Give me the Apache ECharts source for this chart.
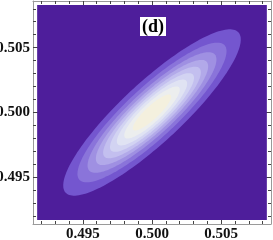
<!DOCTYPE html>
<html><head><meta charset="utf-8">
<script src="https://cdn.jsdelivr.net/npm/echarts@6/dist/echarts.min.js"></script>
<style>html,body{margin:0;padding:0;background:#fff}#c{width:273px;height:240px}</style>
</head><body><div id="c"></div>
<script>
// Axis range and ticks
const axisRange = [0.4914, 0.5086];
const fillRange = [0.4917, 0.5083];
const majorTicks = [0.495, 0.500, 0.505];
const minorTicks = [0.492, 0.493, 0.494, 0.496, 0.497, 0.498, 0.499, 0.501, 0.502, 0.503, 0.504, 0.506, 0.507, 0.508];
// Contour ellipses (outer -> inner), centre, semi-axes along / across the diagonal
const center = [0.500, 0.500];
const tiltDeg = 45;
const contourA = [0.00879, 0.00738, 0.00638, 0.00556, 0.00484, 0.00416, 0.00348, 0.00275, 0.00190];
const contourB = [0.00225, 0.00189, 0.00163, 0.00142, 0.00124, 0.00106, 0.00089, 0.00070, 0.00049];
const bgColor = '#4e1e9b';
const contourColors = ['#7456cf', '#8a74da', '#9f90e2', '#b2a9e9', '#c3bfef', '#d2d3f2', '#e0e3f3', '#eceeee', '#f4f0de'];
const titleText = '(d)';

const font = 'Liberation Serif';
function axisCommon(pos, ticks, len, labels, line) {
  return {
    type: 'value', min: axisRange[0], max: axisRange[1], position: pos,
    axisLine: {show: line, onZero: false, lineStyle: {color: '#9a9a9a', width: 1}},
    axisTick: {show: true, inside: true, length: len, customValues: ticks, lineStyle: {color: '#444', width: 1}},
    axisLabel: labels ? {show: true, customValues: majorTicks, formatter: v => v.toFixed(3),
      fontFamily: font, fontWeight: 'bold', fontSize: 15, color: '#111', margin: 3} : {show: false},
    splitLine: {show: false}
  };
}
const chart = echarts.init(document.getElementById('c'));
chart.setOption({
  animation: false,
  title: {text: titleText, left: 140, top: 17, padding: [1, 2, 0, 2], backgroundColor: '#fff',
    textStyle: {fontFamily: font, fontWeight: 'bold', fontSize: 18, color: '#000'}},
  grid: {left: 33, right: 2, top: 1, bottom: 16, containLabel: false, outerBoundsMode: 'none'},
  xAxis: [
    axisCommon('bottom', majorTicks, 5, true, true),
    axisCommon('bottom', minorTicks, 3, false, false),
    axisCommon('top', majorTicks, 5, false, true),
    axisCommon('top', minorTicks, 3, false, false)
  ],
  yAxis: [
    axisCommon('left', majorTicks, 5, true, true),
    axisCommon('left', minorTicks, 3, false, false),
    axisCommon('right', majorTicks, 5, false, true),
    axisCommon('right', minorTicks, 3, false, false)
  ],
  series: [
    {
      type: 'custom', xAxisIndex: 0, yAxisIndex: 0, silent: true, z: 1,
      data: [[fillRange[0], fillRange[0], fillRange[1], fillRange[1]]],
      encode: {x: [0, 2], y: [1, 3]},
      renderItem: (params, api) => {
        const p0 = api.coord([api.value(0), api.value(3)]);
        const p1 = api.coord([api.value(2), api.value(1)]);
        return {type: 'rect', shape: {x: p0[0], y: p0[1], width: p1[0] - p0[0], height: p1[1] - p0[1]},
          style: {fill: bgColor}};
      }
    },
    {
      type: 'custom', xAxisIndex: 0, yAxisIndex: 0, silent: true, z: 2,
      data: contourA.map((a, i) => [center[0], center[1], a, contourB[i]]),
      encode: {x: 0, y: 1},
      renderItem: (params, api) => {
        const cx = api.value(0), cy = api.value(1), a = api.value(2), b = api.value(3);
        const t = tiltDeg * Math.PI / 180;
        const pts = [];
        for (let k = 0; k < 160; k++) {
          const th = 2 * Math.PI * k / 160;
          const u = a * Math.cos(th), v = b * Math.sin(th);
          pts.push(api.coord([cx + u * Math.cos(t) - v * Math.sin(t), cy + u * Math.sin(t) + v * Math.cos(t)]));
        }
        return {type: 'polygon', z2: params.dataIndex, shape: {points: pts},
          style: {fill: contourColors[params.dataIndex]}};
      }
    }
  ]
});
</script></body></html>
